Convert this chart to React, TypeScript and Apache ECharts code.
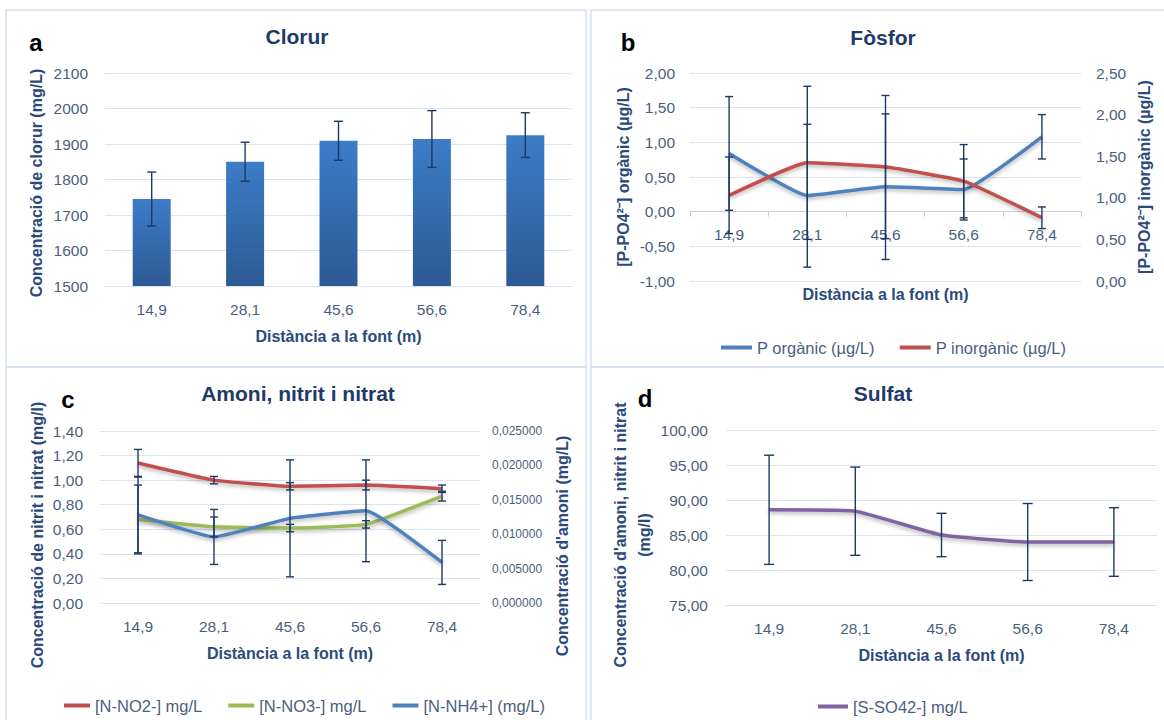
import React, { useEffect, useRef } from "react";
import * as echarts from "echarts";

const categories = ["14,9", "28,1", "45,6", "56,6", "78,4"];

const clorurValues = [1745, 1850, 1909, 1914, 1925];
const clorurErrors = [76, 55, 55, 80, 63];

const pOrganicValues = [0.84, 0.23, 0.36, 0.32, 1.08];
const pOrganicErrors = [0.82, 1.03, 1.05, 0.44, 0.32];
const pInorganicValues = [1.03, 1.42, 1.37, 1.2, 0.76];
const pInorganicErrors = [0.46, 0.92, 0.86, 0.44, 0.13];

const no2Values = [1.14, 1.0, 0.95, 0.96, 0.93];
const no2Errors = [0.11, 0.03, 0.03, 0.04, 0.03];
const no3Values = [0.68, 0.62, 0.61, 0.64, 0.87];
const no3Errors = [0.28, 0.08, 0.03, 0.03, 0.04];
const nh4Values = [0.0128, 0.0096, 0.0123, 0.0134, 0.0059];
const nh4Errors = [0.0055, 0.004, 0.0085, 0.0074, 0.0032];

const so4Values = [88.6, 88.4, 85.0, 84.0, 84.0];
const so4Errors = [7.8, 6.3, 3.1, 5.5, 4.9];

const FONT = "'Liberation Sans', Arial, sans-serif";
const NAVY = "#1f3864";
const TITLE = "#1f3a68";
const NAME = "#2b4a7c";
const LABEL = "#4a5f80";
const GRID = "#d9e3f1";
const BORDER = "#d6e1f0";
const BLUE = "#4f81bd";
const RED = "#c0504d";
const GREEN = "#9bbb59";
const PURPLE = "#8064a2";

const fmt = (d: number) => (v: number) => v.toFixed(d).replace(".", ",");

const tickLabel = { color: LABEL, fontSize: 15.5, fontFamily: FONT };
const nameStyle = { color: NAME, fontSize: 16, fontWeight: "bold", fontFamily: FONT };
const legendText = { color: LABEL, fontSize: 16.5, fontFamily: FONT };

const errData = (vals: number[], errs: number[]) =>
  vals.map((v, i) => [i, v - errs[i], v + errs[i]]);

const errorRender = (half: number) => (params: any, api: any) => {
  const x = api.value(0);
  const top = api.coord([x, api.value(2)]);
  const bot = api.coord([x, api.value(1)]);
  const style = { stroke: NAVY, lineWidth: 1.4 };
  return {
    type: "group",
    children: [
      { type: "line", shape: { x1: top[0], y1: top[1], x2: bot[0], y2: bot[1] }, style },
      { type: "line", shape: { x1: top[0] - half, y1: top[1], x2: top[0] + half, y2: top[1] }, style },
      { type: "line", shape: { x1: bot[0] - half, y1: bot[1], x2: bot[0] + half, y2: bot[1] }, style },
    ],
  };
};

const errSeries = (xi: number, yi: number, vals: number[], errs: number[], half: number) => ({
  type: "custom",
  xAxisIndex: xi,
  yAxisIndex: yi,
  data: errData(vals, errs),
  encode: { x: 0, y: [1, 2] },
  renderItem: errorRender(half),
  z: 10,
  silent: true,
});

const lineSeries = (name: string, xi: number, yi: number, data: number[], color: string) => ({
  name,
  type: "line",
  xAxisIndex: xi,
  yAxisIndex: yi,
  data,
  color,
  symbol: "none",
  smooth: 0.12,
  lineStyle: {
    width: 3.5,
    color,
    shadowBlur: 4,
    shadowColor: "rgba(0,0,0,0.3)",
    shadowOffsetY: 2,
  },
  z: 5,
});

const catAxis = (gridIndex: number, gap: number, extra: any = {}) => ({
  type: "category",
  gridIndex,
  data: categories,
  boundaryGap: true,
  name: "Distància a la font (m)",
  nameLocation: "middle",
  nameGap: gap,
  nameTextStyle: nameStyle,
  axisLabel: { ...tickLabel, margin: 15 },
  axisTick: { show: false },
  axisLine: { show: true, onZero: false, lineStyle: { color: GRID, width: 1 } },
  ...extra,
});

const valAxis = (
  gridIndex: number,
  min: number,
  max: number,
  interval: number,
  formatter: any,
  name: string,
  gap: number,
  margin: number,
  shiftDown: number,
  extra: any = {}
) => ({
  type: "value",
  gridIndex,
  min,
  max,
  interval,
  name,
  nameLocation: "middle",
  nameGap: gap,
  nameTextStyle: { ...nameStyle, padding: [0, Math.max(0, shiftDown * 2), 0, Math.max(0, -shiftDown * 2)] },
  axisLabel: { ...tickLabel, formatter, margin },
  axisLine: { show: false },
  axisTick: { show: false },
  splitLine: { show: true, lineStyle: { color: GRID, width: 1 } },
  ...extra,
});

const textEl = (text: string, x: number, y: number, size: number, color: string) => ({
  type: "text",
  x,
  y,
  style: {
    text,
    fill: color,
    font: `bold ${size}px ${FONT}`,
    textAlign: "center",
    textVerticalAlign: "middle",
  },
  z: 20,
});

const rectEl = (x: number, y: number, w: number, h: number) => ({
  type: "rect",
  shape: { x, y, width: w, height: h },
  style: { fill: "none", stroke: BORDER, lineWidth: 1.5 },
  z: 0,
});

export default function App() {
  const ref = useRef<HTMLDivElement>(null);

  useEffect(() => {
    if (!ref.current) return;
    const chart = echarts.init(ref.current, null, { renderer: "svg" });
    const option: any = {
      animation: false,
      backgroundColor: "#ffffff",
      grid: [
        { left: 105, top: 73, width: 467, height: 213 },
        { left: 690, top: 73, width: 391, height: 208 },
        { left: 100, top: 431, width: 380, height: 172 },
        { left: 726, top: 430, width: 431, height: 175 },
      ],
      xAxis: [
        catAxis(0, 42),
        catAxis(1, 75, {
          offset: -69.33,
          axisLine: { show: true, onZero: false, lineStyle: { color: "#c5d0e0", width: 1 } },
          axisTick: { show: true, length: 5, alignWithLabel: false, lineStyle: { color: "#c5d0e0" } },
        }),
        catAxis(2, 42),
        catAxis(3, 42),
      ],
      yAxis: [
        valAxis(0, 1500, 2100, 100, (v: number) => String(v), "Concentració de clorur (mg/L)", 61, 17, 3.5),
        valAxis(1, -1, 2, 0.5, fmt(2), "[P-PO4²⁻] orgànic (µg/L)", 59, 15, 0),
        valAxis(1, 0, 2.5, 0.5, fmt(2), "[P-PO4²⁻] inorgànic (µg/L)", 55, 15, 0, {
          position: "right",
          splitLine: { show: false },
        }),
        valAxis(2, 0, 1.4, 0.2, fmt(2), "Concentració de nitrit i nitrat (mg/l)", 55, 17, 18),
        valAxis(2, 0, 0.025, 0.005, fmt(6), "Concentració d'amoni (mg/L)", 74, 12, 29, {
          position: "right",
          splitLine: { show: false },
          axisLabel: { ...tickLabel, fontSize: 12, formatter: fmt(6), margin: 12 },
        }),
        valAxis(3, 75, 100, 5, fmt(2), "Concentració d'amoni, nitrit i nitrat\n(mg/l)", 67, 18, 0),
      ],
      legend: [
        {
          data: ["P orgànic (µg/L)", "P inorgànic (µg/L)"],
          left: 716,
          top: 334,
          icon: "rect",
          itemWidth: 31,
          itemHeight: 4,
          itemGap: 25,
          textStyle: legendText,
        },
        {
          data: ["[N-NO2-] mg/L", "[N-NO3-] mg/L", "[N-NH4+] (mg/L)"],
          left: 59,
          top: 692,
          icon: "rect",
          itemWidth: 26,
          itemHeight: 4,
          itemGap: 26,
          textStyle: legendText,
        },
        {
          data: ["[S-SO42-] mg/L"],
          left: 813,
          top: 693,
          icon: "rect",
          itemWidth: 30,
          itemHeight: 4,
          textStyle: legendText,
        },
      ],
      series: [
        {
          name: "Clorur",
          type: "bar",
          xAxisIndex: 0,
          yAxisIndex: 0,
          data: clorurValues,
          barWidth: 38,
          itemStyle: {
            color: new echarts.graphic.LinearGradient(0, 0, 0, 1, [
              { offset: 0, color: "#3d7cc9" },
              { offset: 1, color: "#2c5a94" },
            ]),
          },
          z: 3,
        },
        errSeries(0, 0, clorurValues, clorurErrors, 4.5),

        lineSeries("P orgànic (µg/L)", 1, 1, pOrganicValues, BLUE),
        lineSeries("P inorgànic (µg/L)", 1, 2, pInorganicValues, RED),
        errSeries(1, 1, pOrganicValues, pOrganicErrors, 4),
        errSeries(1, 2, pInorganicValues, pInorganicErrors, 4),

        lineSeries("[N-NO2-] mg/L", 2, 3, no2Values, RED),
        lineSeries("[N-NO3-] mg/L", 2, 3, no3Values, GREEN),
        lineSeries("[N-NH4+] (mg/L)", 2, 4, nh4Values, BLUE),
        errSeries(2, 3, no2Values, no2Errors, 4),
        errSeries(2, 3, no3Values, no3Errors, 4),
        errSeries(2, 4, nh4Values, nh4Errors, 4),

        lineSeries("[S-SO42-] mg/L", 3, 5, so4Values, PURPLE),
        errSeries(3, 5, so4Values, so4Errors, 5),
      ],
      graphic: [
        rectEl(6, 10, 580, 357),
        rectEl(591, 10, 590, 357),
        rectEl(6, 367, 580, 370),
        rectEl(591, 367, 590, 370),
        textEl("a", 36, 42, 24, "#000000"),
        textEl("Clorur", 297, 36, 21, TITLE),
        textEl("b", 628, 42, 24, "#000000"),
        textEl("Fòsfor", 883, 37, 21, TITLE),
        textEl("c", 68, 399, 24, "#000000"),
        textEl("Amoni, nitrit i nitrat", 298, 393, 21, TITLE),
        textEl("d", 645, 398, 24, "#000000"),
        textEl("Sulfat", 883, 393, 21, TITLE),
      ],
    };
    option.yAxis[5].nameTextStyle = { ...nameStyle, lineHeight: 24, padding: [0, 35, 0, 0] };
    chart.setOption(option);
    return () => chart.dispose();
  }, []);

  return (
    <div
      ref={ref}
      style={{ position: "absolute", left: 0, top: 0, width: 1164, height: 720, background: "#fff" }}
    />
  );
}
